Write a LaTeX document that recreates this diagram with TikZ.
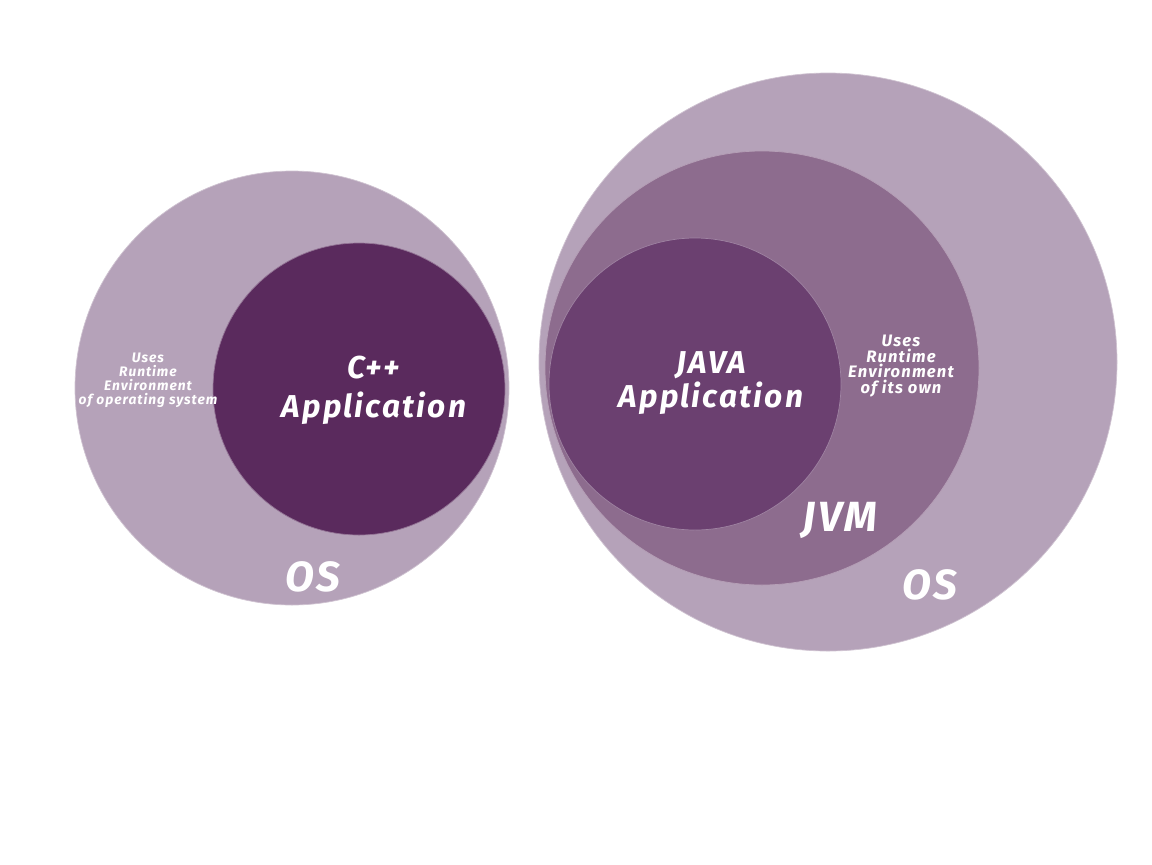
\documentclass[tikz,border=0pt]{standalone}
\usepackage{fontspec}
\setmainfont{Fira Sans}[LetterSpace=7]
\usepackage{tikz}
\usetikzlibrary{positioning}

\definecolor{oslight}{RGB}{181,162,185}
\definecolor{jvmmid}{RGB}{141,108,142}
\definecolor{javaapp}{RGB}{107,64,112}
\definecolor{cppapp}{RGB}{90,42,93}

\begin{document}
\begin{tikzpicture}[
  x=0.025cm, y=-0.025cm,
  disc/.style={
    circle,
    inner sep=0pt,
    draw=white!35!#1,
    line width=0.5pt,
    fill=#1,
    minimum size=2*\discr*0.025cm
  },
  biglabel/.style={
    text=white,
    font=\bfseries\itshape\fontsize{22.5}{28}\selectfont,
    align=center,
    inner sep=0pt
  },
  hugelabel/.style={
    biglabel,
    font=\bfseries\itshape\fontsize{30}{30}\selectfont
  },
  tagline/.style={
    text=white,
    font=\bfseries\itshape\fontsize{9.8}{10}\selectfont,
    align=center,
    inner sep=0pt
  }
]
\useasboundingbox (0,0) rectangle (1152,864);

% C++ side
\def\discr{217}
\node[disc=oslight] (osleft) at (292,388) {};
\def\discr{146}
\node[disc=cppapp] (cpp) at (359,389) {};

% Java side
\def\discr{289}
\node[disc=oslight] (osright) at (828,362) {};
\def\discr{217}
\node[disc=jvmmid] (jvm) at (762,368) {};
\def\discr{146}
\node[disc=javaapp] (java) at (695,384) {};

% Labels
\node[biglabel] (cpptext) at (374,390) {C++\\Application};
\node[biglabel, font=\bfseries\itshape\fontsize{22.5}{24}\selectfont] (javatext) at (711,383) {JAVA\\Application};
\node[hugelabel] (jvmtext) at (840,520) {JVM};
\node[hugelabel] (osltext) at (313,577) {OS};
\node[hugelabel] (osrtext) at (930,585) {OS};

\node[tagline] (cppuses) at (148,380) {Uses\\Runtime\\Environment\\of operating system};
\node[tagline, font=\bfseries\itshape\fontsize{11.8}{11}\selectfont] (javauses) at (901,366) {Uses\\Runtime\\Environment\\of its own};

\end{tikzpicture}
\end{document}
